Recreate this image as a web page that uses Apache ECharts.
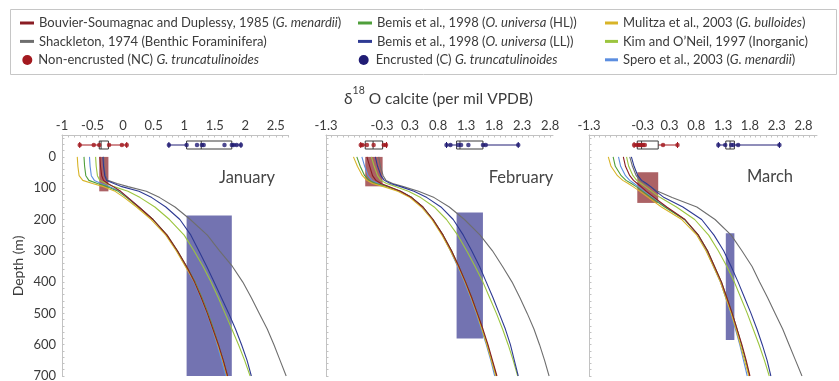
<!DOCTYPE html>
<html>
<head>
<meta charset="utf-8">
<script src="https://cdn.jsdelivr.net/npm/echarts@6/dist/echarts.min.js"></script>
<style>
  html, body { margin: 0; padding: 0; background: #fff; }
  #c { width: 839px; height: 381px; }
</style>
</head>
<body>
<div id="c"></div>
<script>
// Depths (m) at which each predicted calcite profile is sampled
const depths = [0, 30, 60, 75, 85, 95, 110, 130, 160, 200, 250, 300, 350, 400, 450, 500, 550, 600, 650, 700];

// Predicted δ18O calcite (per mil VPDB) — January
const janMulitza    = [-0.75,-0.74,-0.72,-0.66,-0.50,-0.32,-0.13,0.02,0.22,0.46,0.70,0.87,1.02,1.17,1.28,1.38,1.47,1.55,1.63,1.70];
const janBemisHL    = [-0.64,-0.63,-0.61,-0.56,-0.42,-0.26,-0.08,0.06,0.25,0.49,0.72,0.89,1.04,1.18,1.29,1.39,1.48,1.56,1.64,1.71];
const janSpero      = [-0.55,-0.54,-0.52,-0.47,-0.36,-0.22,-0.05,0.08,0.26,0.49,0.71,0.88,1.03,1.16,1.27,1.37,1.46,1.54,1.61,1.68];
const janBouvier    = [-0.38,-0.37,-0.35,-0.32,-0.25,-0.16,-0.04,0.08,0.26,0.49,0.72,0.89,1.04,1.17,1.28,1.38,1.47,1.56,1.64,1.71];
const janKim        = [-0.45,-0.44,-0.42,-0.38,-0.28,-0.15,0.08,0.28,0.52,0.76,1.00,1.16,1.31,1.44,1.56,1.67,1.78,1.89,1.99,2.08];
const janBemisLL    = [-0.33,-0.32,-0.30,-0.27,-0.15,-0.02,0.26,0.47,0.70,0.93,1.11,1.24,1.37,1.49,1.61,1.73,1.84,1.94,2.03,2.10];
const janShackleton = [-0.32,-0.31,-0.29,-0.25,-0.10,0.08,0.38,0.60,0.85,1.10,1.38,1.58,1.79,1.96,2.10,2.23,2.36,2.47,2.57,2.67];

// February
const febMulitza    = [-0.76,-0.69,-0.60,-0.52,-0.42,-0.22,0.03,0.25,0.45,0.64,0.82,0.97,1.11,1.23,1.34,1.44,1.53,1.62,1.70,1.78];
const febBemisHL    = [-0.70,-0.64,-0.56,-0.48,-0.36,-0.16,0.07,0.28,0.48,0.66,0.84,0.99,1.12,1.24,1.35,1.45,1.54,1.63,1.71,1.79];
const febSpero      = [-0.61,-0.56,-0.50,-0.43,-0.32,-0.14,0.08,0.28,0.47,0.65,0.83,0.97,1.10,1.22,1.33,1.43,1.52,1.61,1.69,1.76];
const febBouvier    = [-0.52,-0.47,-0.42,-0.36,-0.27,-0.12,0.08,0.28,0.48,0.66,0.84,0.99,1.12,1.24,1.35,1.45,1.55,1.64,1.72,1.80];
const febKim        = [-0.44,-0.39,-0.33,-0.27,-0.17,0.00,0.22,0.44,0.68,0.90,1.10,1.26,1.41,1.55,1.67,1.79,1.90,2.00,2.09,2.17];
const febBemisLL    = [-0.37,-0.33,-0.27,-0.21,-0.10,0.08,0.32,0.55,0.80,1.02,1.20,1.35,1.49,1.61,1.73,1.84,1.95,2.04,2.11,2.18];
const febShackleton = [-0.31,-0.28,-0.23,-0.18,-0.06,0.13,0.40,0.68,0.95,1.22,1.50,1.72,1.90,2.07,2.21,2.34,2.46,2.56,2.65,2.73];

// March
const marMulitza    = [-0.89,-0.84,-0.72,-0.62,-0.52,-0.43,-0.30,-0.14,0.10,0.48,0.76,0.93,1.07,1.20,1.30,1.40,1.49,1.57,1.65,1.73];
const marBemisHL    = [-0.80,-0.76,-0.65,-0.56,-0.46,-0.37,-0.25,-0.09,0.16,0.53,0.79,0.96,1.09,1.22,1.32,1.42,1.51,1.59,1.67,1.74];
const marSpero      = [-0.70,-0.66,-0.57,-0.49,-0.41,-0.33,-0.22,-0.06,0.18,0.53,0.78,0.94,1.07,1.20,1.30,1.39,1.48,1.56,1.63,1.70];
const marBouvier    = [-0.61,-0.57,-0.49,-0.42,-0.35,-0.28,-0.18,-0.03,0.20,0.54,0.79,0.96,1.09,1.22,1.32,1.42,1.51,1.60,1.68,1.75];
const marKim        = [-0.55,-0.51,-0.43,-0.36,-0.28,-0.20,-0.08,0.08,0.38,0.72,0.98,1.16,1.32,1.46,1.58,1.70,1.81,1.92,2.02,2.11];
const marBemisLL    = [-0.46,-0.41,-0.34,-0.27,-0.18,-0.10,0.00,0.15,0.50,0.85,1.08,1.26,1.40,1.53,1.65,1.77,1.88,1.98,2.07,2.14];
const marShackleton = [-0.49,-0.44,-0.37,-0.30,-0.21,-0.11,0.03,0.30,0.76,1.10,1.40,1.60,1.79,1.93,2.08,2.22,2.36,2.48,2.60,2.72];

// Measured G. truncatulinoides: box stats [min, q1, median, q3, max] and individual values
const janNCBox = [-0.71, -0.39, -0.36, -0.24, 0.06];
const janNCPts = [-0.71, -0.48, -0.39, -0.23, -0.02, 0.06];
const janCBox  = [0.75, 1.04, 1.28, 1.78, 1.93];
const janCPts  = [0.75, 1.04, 1.21, 1.29, 1.32, 1.66, 1.78, 1.81, 1.86, 1.93];
const febNCBox = [-0.63, -0.55, -0.41, -0.24, -0.17];
const febNCPts = [-0.63, -0.60, -0.52, -0.40, -0.22, -0.18];
const febCBox  = [0.90, 1.08, 1.14, 1.55, 2.18];
const febCPts  = [0.90, 0.97, 1.11, 1.16, 1.29, 1.55, 1.60, 2.18];
const marNCBox = [-0.41, -0.35, -0.27, 0.04, 0.40];
const marNCPts = [-0.41, -0.36, -0.33, -0.30, -0.27, -0.24, -0.21, 0.13, 0.40];
const marCBox  = [1.16, 1.30, 1.38, 1.46, 2.30];
const marCPts  = [1.16, 1.29, 1.40, 1.44, 1.53, 2.30];

// Calcification zones: [x from, x to, depth top, depth bottom]
const janNCZone = [-0.39, -0.24, 0, 110];
const janCZone  = [1.04, 1.78, 187, 700];
const febNCZone = [-0.55, -0.24, 0, 94];
const febCZone  = [1.08, 1.55, 178, 580];
const marNCZone = [-0.35, 0.04, 49, 147];
const marCZone  = [1.30, 1.46, 244, 585];

// Axis tick values and their printed labels
const janTicks = [-1, -0.5, 0, 0.5, 1, 1.5, 2, 2.5];
const janTickLabels = ['-1', '-0.5', '0', '0.5', '1', '1.5', '2', '2.5'];
const febMarTicks = [-1.25, -0.25, 0.25, 0.75, 1.25, 1.75, 2.25, 2.75];
const febMarTickLabels = ['-1.3', '-0.3', '0.3', '0.8', '1.3', '1.8', '2.3', '2.8'];
const depthTicks = [0, 100, 200, 300, 400, 500, 600, 700];
const months = ['January', 'February', 'March'];

// Depth row (above the sea surface) where the box plots sit
const boxDepth = -38;

const S_BOUV  = 'Bouvier-Soumagnac and Duplessy, 1985 (G. menardii)';
const S_SHACK = 'Shackleton, 1974 (Benthic Foraminifera)';
const S_NC    = 'Non-encrusted (NC) G. truncatulinoides';
const S_HL    = 'Bemis et al., 1998 (O. universa (HL))';
const S_LL    = 'Bemis et al., 1998 (O. universa (LL))';
const S_C     = 'Encrusted (C) G. truncatulinoides';
const S_MUL   = 'Mulitza et al., 2003 (G. bulloides)';
const S_KIM   = 'Kim and O\u2019Neil, 1997 (Inorganic)';
const S_SPERO = 'Spero et al., 2003 (G. menardii)';

const richName = {
  [S_BOUV]: '{n|Bouvier-Soumagnac and Duplessy, 1985 (}{i|G. menardii}{n|)}',
  [S_SHACK]: '{n|Shackleton, 1974 (Benthic Foraminifera)}',
  [S_NC]: '{n|Non-encrusted (NC) }{i|G. truncatulinoides}',
  [S_HL]: '{n|Bemis et al., 1998 (}{i|O. universa}{n| (HL))}',
  [S_LL]: '{n|Bemis et al., 1998 (}{i|O. universa}{n| (LL))}',
  [S_C]: '{n|Encrusted (C) }{i|G. truncatulinoides}',
  [S_MUL]: '{n|Mulitza et al., 2003 (}{i|G. bulloides}{n|)}',
  [S_KIM]: '{n|Kim and O\u2019Neil, 1997 (Inorganic)}',
  [S_SPERO]: '{n|Spero et al., 2003 (}{i|G. menardii}{n|)}'
};

const COL = {
  [S_BOUV]: '#8a1d24', [S_SHACK]: '#6e6e6e', [S_HL]: '#4f9f3b', [S_LL]: '#2e3a93',
  [S_MUL]: '#d8b428', [S_KIM]: '#9cc53f', [S_SPERO]: '#5c8ee0',
  [S_NC]: '#a3191f', [S_C]: '#201c74'
};

const curves = [
  { name: S_SHACK, data: [janShackleton, febShackleton, marShackleton] },
  { name: S_KIM,   data: [janKim, febKim, marKim] },
  { name: S_LL,    data: [janBemisLL, febBemisLL, marBemisLL] },
  { name: S_SPERO, data: [janSpero, febSpero, marSpero] },
  { name: S_HL,    data: [janBemisHL, febBemisHL, marBemisHL] },
  { name: S_MUL,   data: [janMulitza, febMulitza, marMulitza] },
  { name: S_BOUV,  data: [janBouvier, febBouvier, marBouvier] }
];
const ncBoxes = [janNCBox, febNCBox, marNCBox];
const ncPts = [janNCPts, febNCPts, marNCPts];
const cBoxes = [janCBox, febCBox, marCBox];
const cPts = [janCPts, febCPts, marCPts];
const ncZones = [janNCZone, febNCZone, marNCZone];
const cZones = [janCZone, febCZone, marCZone];

const FONT = 'Lato';
const TXT = '#3b3b3b';
const AX = '#c2c2c2';

const panels = [
  { left: 62,  width: 226, min: -1,    max: 2.7, ticks: janTicks,    labels: janTickLabels },
  { left: 326, width: 227, min: -1.25, max: 2.8, ticks: febMarTicks, labels: febMarTickLabels },
  { left: 589, width: 228, min: -1.25, max: 3.0, ticks: febMarTicks, labels: febMarTickLabels }
];

function fineTicks(lo, hi, step) {
  const out = [];
  for (let v = lo; v <= hi + 1e-9; v += step) out.push(Math.round(v * 1000) / 1000);
  return out;
}

const grid = [], xAxis = [], yAxis = [], series = [];

panels.forEach((p, i) => {
  grid.push({ left: p.left, top: 135, width: p.width, height: 241, containLabel: false, outerBoundsMode: 'none' });
  xAxis.push({
    type: 'value', gridIndex: i, position: 'top', min: p.min, max: p.max,
    axisLine: { show: true, onZero: false, lineStyle: { color: AX, width: 1 } },
    axisTick: { show: true, inside: true, length: 2.5, customValues: fineTicks(p.min, p.max, 0.1), lineStyle: { color: AX } },
    axisLabel: {
      customValues: p.ticks, margin: 3, color: TXT, fontSize: 13, fontFamily: FONT,
      formatter: v => { const k = p.ticks.findIndex(t => Math.abs(t - v) < 1e-6); return k < 0 ? '' : p.labels[k]; }
    },
    splitLine: { show: false }
  });
  yAxis.push({
    type: 'value', gridIndex: i, inverse: true, min: -70, max: 700,
    axisLine: { show: true, onZero: false, lineStyle: { color: AX, width: 1 } },
    axisTick: { show: true, inside: true, length: 2.5, customValues: fineTicks(-60, 700, 20), lineStyle: { color: AX } },
    axisLabel: { show: i === 0, customValues: depthTicks, margin: 6, color: TXT, fontSize: 13, fontFamily: FONT },
    splitLine: { show: false }
  });

  // calcification-depth zones
  [[ncZones[i], '#a85a5d'], [cZones[i], '#6b6bad']].forEach(([zone, fill]) => {
    series.push({
      type: 'custom', xAxisIndex: i, yAxisIndex: i, z: 1, silent: true,
      data: [zone], encode: { x: [0, 1], y: [2, 3] },
      renderItem: (params, api) => {
        const a = api.coord([api.value(0), api.value(2)]);
        const b = api.coord([api.value(1), api.value(3)]);
        return { type: 'rect', shape: { x: a[0], y: a[1], width: b[0] - a[0], height: b[1] - a[1] }, style: { fill: fill, opacity: 0.95 } };
      }
    });
  });

  // predicted profiles
  curves.forEach(c => {
    series.push({
      type: 'line', name: c.name, xAxisIndex: i, yAxisIndex: i, z: 2,
      data: c.data[i].map((v, k) => [v, depths[k]]),
      showSymbol: false, silent: true,
      lineStyle: { color: COL[c.name], width: 1.1 },
      itemStyle: { color: COL[c.name] }
    });
  });

  // box plots of measured values
  [[ncBoxes[i], ncPts[i], S_NC], [cBoxes[i], cPts[i], S_C]].forEach(([box, pts, name]) => {
    const col = COL[name];
    series.push({
      type: 'custom', name: name, xAxisIndex: i, yAxisIndex: i, z: 3, silent: true,
      itemStyle: { color: col },
      data: [[...box, boxDepth]], encode: { x: [0, 1, 2, 3, 4], y: 5 },
      renderItem: (params, api) => {
        const d = api.value(5);
        const px = k => api.coord([api.value(k), d])[0];
        const y = api.coord([api.value(0), d])[1];
        const [x0, x1, x2, x3, x4] = [0, 1, 2, 3, 4].map(px);
        const h = 4;
        const ln = (xa, ya, xb, yb, stroke) => ({ type: 'line', shape: { x1: xa, y1: ya, x2: xb, y2: yb }, style: { stroke: stroke, lineWidth: 1 } });
        return {
          type: 'group', children: [
            ln(x0, y, x1, y, col), ln(x3, y, x4, y, col),
            ln(x0, y - 3, x0, y + 3, col), ln(x4, y - 3, x4, y + 3, col),
            { type: 'rect', shape: { x: x1, y: y - h, width: x3 - x1, height: 2 * h }, style: { fill: 'rgba(0,0,0,0)', stroke: '#3a3a3a', lineWidth: 1 } },
            ln(x2, y - h, x2, y + h, '#3a3a3a')
          ]
        };
      }
    });
    series.push({
      type: 'scatter', name: name, xAxisIndex: i, yAxisIndex: i, z: 4, silent: true,
      data: pts.map(v => [v, boxDepth]), symbolSize: 4.5,
      itemStyle: { color: col }
    });
  });
});

const legendText = {
  color: TXT, fontSize: 13, fontFamily: FONT, lineHeight: 16,
  rich: {
    n: { fontSize: 13, fontFamily: FONT, color: TXT, lineHeight: 16 },
    i: { fontSize: 13, fontFamily: FONT, color: TXT, lineHeight: 16, fontStyle: 'italic' }
  }
};
function legendBlock(left, top, names, icon, w, h) {
  return {
    left: left, top: top, orient: 'vertical', padding: 0, itemGap: 2.4,
    itemWidth: w, itemHeight: h, selectedMode: false,
    data: names.map(n => ({ name: n, icon: icon, itemStyle: { color: COL[n] } })),
    formatter: n => richName[n],
    textStyle: legendText
  };
}

const option = {
  animation: false,
  backgroundColor: '#ffffff',
  title: {
    left: 344, top: 85, padding: 0,
    text: '{d|\u03b4}{s|18}{d| O calcite (per mil VPDB)}',
    textStyle: {
      fontWeight: 'normal',
      rich: {
        d: { fontSize: 15.5, fontFamily: FONT, fontWeight: 'normal', color: TXT, lineHeight: 22, verticalAlign: 'bottom' },
        s: { fontSize: 10.5, fontFamily: FONT, fontWeight: 'normal', color: TXT, lineHeight: 22, verticalAlign: 'top' }
      }
    }
  },
  legend: [
    legendBlock(20, 15, [S_BOUV, S_SHACK], 'rect', 14, 3),
    legendBlock(22.3, 52, [S_NC], 'circle', 12, 10),
    legendBlock(358, 15, [S_HL, S_LL], 'rect', 14, 3),
    legendBlock(358.7, 52, [S_C], 'circle', 14, 10),
    legendBlock(605, 15, [S_MUL, S_KIM, S_SPERO], 'rect', 13, 3)
  ],
  grid: grid,
  xAxis: xAxis,
  yAxis: yAxis,
  series: series,
  graphic: [
    { type: 'rect', shape: { x: 10.5, y: 9.5, width: 826, height: 65 }, style: { fill: null, stroke: '#c6c6c6', lineWidth: 1 }, silent: true },
    { type: 'text', x: 18, y: 266, rotation: Math.PI / 2, style: { text: 'Depth (m)', fontSize: 14, fontFamily: FONT, fill: TXT, align: 'center', verticalAlign: 'middle' } },
    { type: 'text', x: 247, y: 178, style: { text: months[0], fontSize: 16.5, fontFamily: FONT, fill: '#454545', align: 'center', verticalAlign: 'middle' } },
    { type: 'text', x: 521, y: 178, style: { text: months[1], fontSize: 16.5, fontFamily: FONT, fill: '#454545', align: 'center', verticalAlign: 'middle' } },
    { type: 'text', x: 770, y: 177, style: { text: months[2], fontSize: 16.5, fontFamily: FONT, fill: '#454545', align: 'center', verticalAlign: 'middle' } }
  ]
};

const chart = echarts.init(document.getElementById('c'));
chart.setOption(option);
</script>
</body>
</html>
